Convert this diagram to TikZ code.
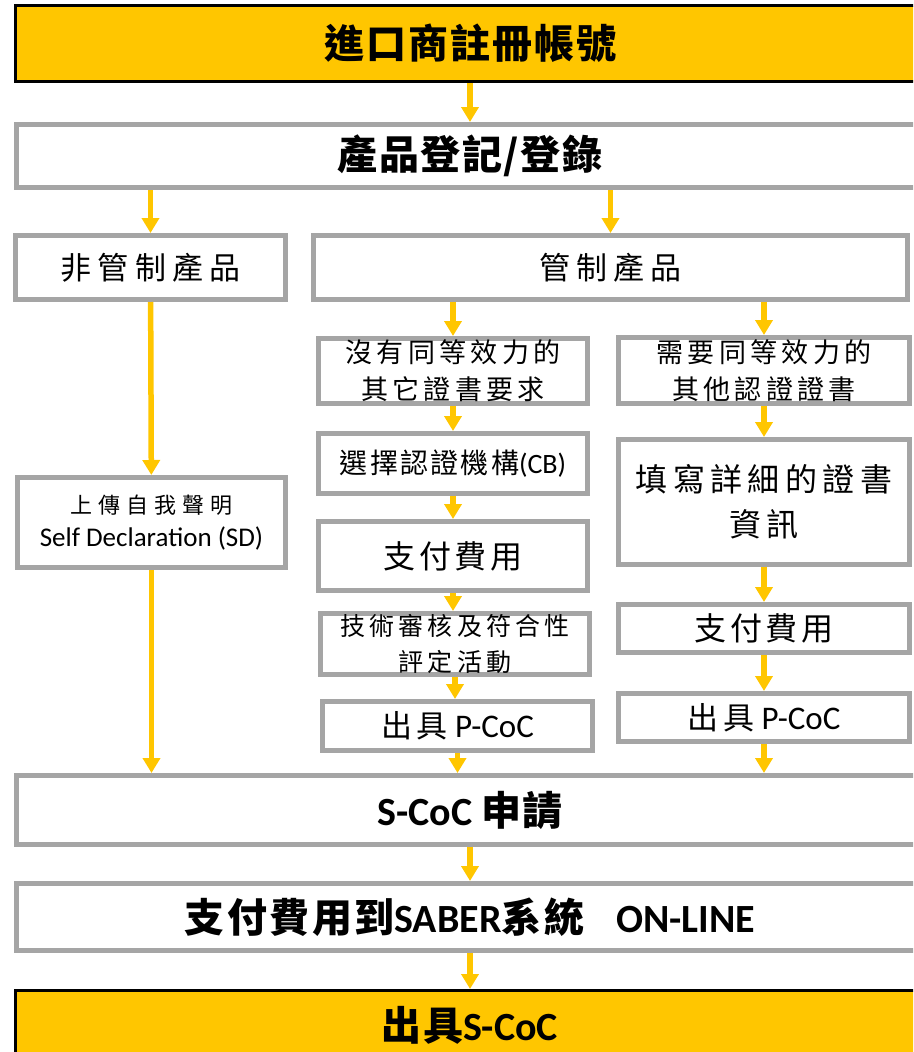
\documentclass[tikz,border=0pt]{standalone}
\usepackage{fontspec}
\setmainfont{Carlito}
\newfontfamily\cjk{Noto Sans CJK TC}
\usetikzlibrary{arrows.meta}
\definecolor{gold}{HTML}{FFC600}
\definecolor{boxgray}{HTML}{A5A5A5}
\newcommand\zh[2][0]{{\cjk\addfontfeature{LetterSpace=#1}#2}}
\newcommand\fsz[2]{\fontsize{#1}{#2}\selectfont}
\tikzset{
    box/.style={draw=boxgray, line width=5pt, fill=white, inner sep=0pt, align=center},
    bbox/.style={box, font=\bfseries\fsz{40}{48}},
    hibox/.style={draw=black, line width=3pt, fill=gold, inner sep=0pt, align=center, font=\bfseries\fsz{40}{48}},
    wh/.style 2 args={minimum width=#1pt, minimum height=#2pt},
    flow/.style={draw=gold, line width=5.5pt, -{Triangle[width=17pt,length=15pt]}},
  }
\begin{document}
\begin{tikzpicture}[x=1pt,y=-1pt]
	\useasboundingbox (0,0) rectangle (913,1052);
	\clip (0,0) rectangle (913,1052);
	%full width steps
	\node[hibox,wh={909}{76}] (imp) at (470,43.5) {\zh[5]{進口商註冊帳號}};
	\node[bbox,wh={907}{63}] (reg) at (470,156) {\zh[4]{產品登記/登錄}};
	%two branches
	\node[box,wh={270}{64},font=\fsz{31}{37}] (free) at (150.5,267.5) {\zh[20]{非管制產品}};
	\node[box,wh={594}{64},font=\fsz{31}{37}] (ctrl) at (610.5,267.5) {\zh[20]{管制產品}};
	\node[box,wh={268}{90},font=\fsz{27}{33}] (sd) at (151.5,522.5) {\zh[28]{\fsz{22}{33}上傳自我聲明}\\Self Declaration (SD)};
	%middle column
	\node[box,wh={269}{65},font=\fsz{27}{37}] (noeq) at (453,371) {\zh[16]{沒有同等效力的}\\\zh[16]{其它證書要求}};
	\node[box,wh={269}{60},font=\fsz{28}{34}] (cb) at (453,463.5) {\zh[8]{選擇認證機構}(CB)};
	\node[box,wh={269}{69},font=\fsz{32}{38}] (feeA) at (453,556) {\zh[12]{支付費用}};
	\node[box,wh={269}{61},font=\fsz{25}{36}] (audit) at (455,644) {\zh[17]{技術審核及符合性}\\\zh[17]{評定活動}};
	\node[box,wh={270}{49},font=\fsz{33}{38}] (pcocA) at (457.5,726) {\zh[15]{\fsz{31}{38}出具} P-CoC};
	%right column
	\node[box,wh={291}{66},font=\fsz{27}{37}] (eq) at (764,370.5) {\zh[16]{需要同等效力的}\\\zh[16]{其他認證證書}};
	\node[box,wh={291}{125},font=\fsz{32}{45}] (info) at (764,502) {\zh[17]{填寫詳細的證書}\\\zh[17]{資訊}};
	\node[box,wh={291}{48},font=\fsz{32}{38}] (feeB) at (764,628.5) {\zh[12]{支付費用}};
	\node[box,wh={291}{48},font=\fsz{33}{38}] (pcocB) at (764,717.5) {\zh[15]{\fsz{31}{38}出具} P-CoC};
	%joined again
	\node[bbox,wh={908}{69}] (scoc) at (470,810) {S-CoC \zh[3]{申請}};
	\node[bbox,wh={907}{67}] (pay) at (470,917) {\zh[6]{支付費用到}SABER\zh[6]{系統}\hspace{32pt}ON-LINE};
	\node[hibox,wh={909}{70}] (done) at (470,1025.5) {\zh[3]{出具}S-CoC};
	%arrows
	\draw[flow] (imp) -- (reg);
	\draw[flow] (reg.south -| free) -- (free);
	\draw[flow] (reg.south -| ctrl) -- (ctrl);
	\draw[flow] (free) -- (sd);
	\draw[flow] (sd) -- (sd |- scoc.north);
	\draw[flow] (ctrl.south -| noeq) -- (noeq);
	\draw[flow] (noeq) -- (cb);
	\draw[flow] (cb) -- (feeA);
	\draw[flow] (feeA) -- (audit.north -| feeA);
	\draw[flow] (audit) -- (pcocA.north -| audit);
	\draw[flow] (pcocA) -- (pcocA |- scoc.north);
	\draw[flow] (ctrl.south -| eq) -- (eq);
	\draw[flow] (eq) -- (info);
	\draw[flow] (info) -- (feeB);
	\draw[flow] (feeB) -- (pcocB);
	\draw[flow] (pcocB) -- (pcocB |- scoc.north);
	\draw[flow] (scoc) -- (pay);
	\draw[flow] (pay) -- (done);
\end{tikzpicture}
\end{document}
